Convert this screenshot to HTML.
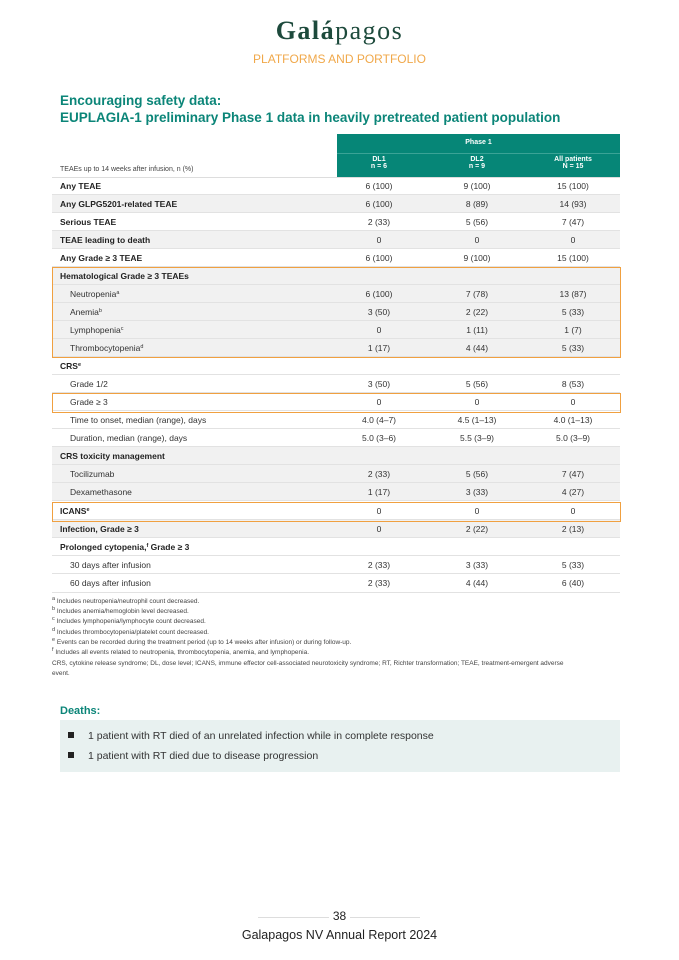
<!DOCTYPE html>
<html><head><meta charset="utf-8"><style>
body{margin:0;width:679px;height:960px;background:#fff;font-family:"Liberation Sans",sans-serif;position:relative;overflow:hidden}
.abs{position:absolute}
.row{position:absolute;left:52px;width:568px;height:18px;border-bottom:1px solid #e2e2e2;font-size:8.5px;color:#333;box-sizing:border-box}
.row span{position:absolute;top:4px}
.l{left:8px}.ind{left:18px}
.c1,.c2,.c3{width:80px;text-align:center}
.c1{left:287px}.c2{left:385px}.c3{left:481px}
.g{background:#f1f1f1}
.b{font-weight:bold;color:#222}
.box{position:absolute;border:1.5px solid #f0a040;box-sizing:border-box;left:52px;width:569px}
sup{font-size:5.5px;line-height:0;vertical-align:3px}
.fn{position:absolute;left:52px;font-size:6.5px;color:#444}
.fn div{height:10.2px;line-height:10.2px}
</style></head><body>
<div class="abs" style="left:0;width:679px;top:16px;text-align:center;font-family:'Liberation Serif',serif;font-size:26px;color:#1d4a3c;letter-spacing:1.5px"><b>Galá</b>pagos</div>
<div class="abs" style="left:0;width:679px;top:52px;text-align:center;font-size:12px;color:#f0a84a">PLATFORMS AND PORTFOLIO</div>
<div class="abs" style="left:60px;top:92px;font-size:13.5px;font-weight:bold;color:#0b8578;line-height:17px">Encouraging safety data:<br>EUPLAGIA-1 preliminary Phase 1 data in heavily pretreated patient population</div>
<div class="abs" style="left:337px;top:134px;width:283px;height:44px;background:#068677;color:#fff;font-size:7px;font-weight:bold">
<div style="position:absolute;top:5px;width:100%;text-align:center">Phase 1</div>
<div style="position:absolute;top:19px;left:0;width:100%;border-top:1px solid #3aa396"></div>
<div style="position:absolute;top:22px;left:2px;width:80px;text-align:center">DL1<br>n = 6</div>
<div style="position:absolute;top:22px;left:100px;width:80px;text-align:center">DL2<br>n = 9</div>
<div style="position:absolute;top:22px;left:196px;width:80px;text-align:center">All patients<br>N = 15</div>
</div>
<div class="abs" style="left:60px;top:166px;font-size:7px;color:#444">TEAEs up to 14 weeks after infusion, n (%)</div>
<div class="abs" style="left:52px;top:177px;width:568px;border-top:1px solid #ddd"></div>

<div class="row" style="top:177px"><span class="l b">Any TEAE</span><span class="c1">6 (100)</span><span class="c2">9 (100)</span><span class="c3">15 (100)</span></div>
<div class="row g" style="top:195px"><span class="l b">Any GLPG5201-related TEAE</span><span class="c1">6 (100)</span><span class="c2">8 (89)</span><span class="c3">14 (93)</span></div>
<div class="row" style="top:213px"><span class="l b">Serious TEAE</span><span class="c1">2 (33)</span><span class="c2">5 (56)</span><span class="c3">7 (47)</span></div>
<div class="row g" style="top:231px"><span class="l b">TEAE leading to death</span><span class="c1">0</span><span class="c2">0</span><span class="c3">0</span></div>
<div class="row" style="top:249px"><span class="l b">Any Grade ≥ 3 TEAE</span><span class="c1">6 (100)</span><span class="c2">9 (100)</span><span class="c3">15 (100)</span></div>
<div class="row g" style="top:267px"><span class="l b">Hematological Grade ≥ 3 TEAEs</span></div>
<div class="row g" style="top:285px"><span class="ind">Neutropenia<sup>a</sup></span><span class="c1">6 (100)</span><span class="c2">7 (78)</span><span class="c3">13 (87)</span></div>
<div class="row g" style="top:303px"><span class="ind">Anemia<sup>b</sup></span><span class="c1">3 (50)</span><span class="c2">2 (22)</span><span class="c3">5 (33)</span></div>
<div class="row g" style="top:321px"><span class="ind">Lymphopenia<sup>c</sup></span><span class="c1">0</span><span class="c2">1 (11)</span><span class="c3">1 (7)</span></div>
<div class="row g" style="top:339px"><span class="ind">Thrombocytopenia<sup>d</sup></span><span class="c1">1 (17)</span><span class="c2">4 (44)</span><span class="c3">5 (33)</span></div>
<div class="row" style="top:357px"><span class="l b">CRS<sup>e</sup></span></div>
<div class="row" style="top:375px"><span class="ind">Grade 1/2</span><span class="c1">3 (50)</span><span class="c2">5 (56)</span><span class="c3">8 (53)</span></div>
<div class="row" style="top:393px"><span class="ind">Grade ≥ 3</span><span class="c1">0</span><span class="c2">0</span><span class="c3">0</span></div>
<div class="row" style="top:411px"><span class="ind">Time to onset, median (range), days</span><span class="c1">4.0 (4–7)</span><span class="c2">4.5 (1–13)</span><span class="c3">4.0 (1–13)</span></div>
<div class="row" style="top:429px"><span class="ind">Duration, median (range), days</span><span class="c1">5.0 (3–6)</span><span class="c2">5.5 (3–9)</span><span class="c3">5.0 (3–9)</span></div>
<div class="row g" style="top:447px"><span class="l b">CRS toxicity management</span></div>
<div class="row g" style="top:465px"><span class="ind">Tocilizumab</span><span class="c1">2 (33)</span><span class="c2">5 (56)</span><span class="c3">7 (47)</span></div>
<div class="row g" style="top:483px"><span class="ind">Dexamethasone</span><span class="c1">1 (17)</span><span class="c2">3 (33)</span><span class="c3">4 (27)</span></div>
<div class="row" style="top:502px"><span class="l b">ICANS<sup>e</sup></span><span class="c1">0</span><span class="c2">0</span><span class="c3">0</span></div>
<div class="row g" style="top:520px"><span class="l b">Infection, Grade ≥ 3</span><span class="c1">0</span><span class="c2">2 (22)</span><span class="c3">2 (13)</span></div>
<div class="row" style="top:538px"><span class="l b">Prolonged cytopenia,<sup>f</sup> Grade ≥ 3</span></div>
<div class="row" style="top:556px"><span class="ind">30 days after infusion</span><span class="c1">2 (33)</span><span class="c2">3 (33)</span><span class="c3">5 (33)</span></div>
<div class="row" style="top:574px;height:19px"><span class="ind">60 days after infusion</span><span class="c1">2 (33)</span><span class="c2">4 (44)</span><span class="c3">6 (40)</span></div>

<div class="box" style="top:267px;height:91px"></div>
<div class="box" style="top:393px;height:20px"></div>
<div class="box" style="top:502px;height:20px"></div>

<div class="fn" style="top:597px">
<div><sup>a</sup> Includes neutropenia/neutrophil count decreased.</div>
<div><sup>b</sup> Includes anemia/hemoglobin level decreased.</div>
<div><sup>c</sup> Includes lymphopenia/lymphocyte count decreased.</div>
<div><sup>d</sup> Includes thrombocytopenia/platelet count decreased.</div>
<div><sup>e</sup> Events can be recorded during the treatment period (up to 14 weeks after infusion) or during follow-up.</div>
<div><sup>f</sup> Includes all events related to neutropenia, thrombocytopenia, anemia, and lymphopenia.</div>
</div>
<div class="fn" style="top:659px;width:520px;line-height:9.5px">CRS, cytokine release syndrome; DL, dose level; ICANS, immune effector cell-associated neurotoxicity syndrome; RT, Richter transformation; TEAE, treatment-emergent adverse event.</div>

<div class="abs" style="left:60px;top:705px;font-size:11px;font-weight:bold;color:#0b8578">Deaths:</div>
<div class="abs" style="left:60px;top:720px;width:560px;height:52px;background:#e8f1f0"></div>
<div class="abs" style="left:68px;top:726px;font-size:10.5px;color:#333;line-height:20px">
<div><span style="display:inline-block;width:6px;height:6px;background:#222;margin-right:14px;vertical-align:1px"></span>1 patient with RT died of an unrelated infection while in complete response</div>
<div><span style="display:inline-block;width:6px;height:6px;background:#222;margin-right:14px;vertical-align:1px"></span>1 patient with RT died due to disease progression</div>
</div>

<div class="abs" style="left:258px;top:917px;width:162px;border-top:1px solid #ddd"></div>
<div class="abs" style="left:0;width:679px;top:909px;text-align:center;font-size:12px;color:#222"><span style="background:#fff;padding:0 4px">38</span></div>
<div class="abs" style="left:0;width:679px;top:928px;text-align:center;font-size:12.5px;color:#222">Galapagos NV Annual Report 2024</div>
</body></html>
